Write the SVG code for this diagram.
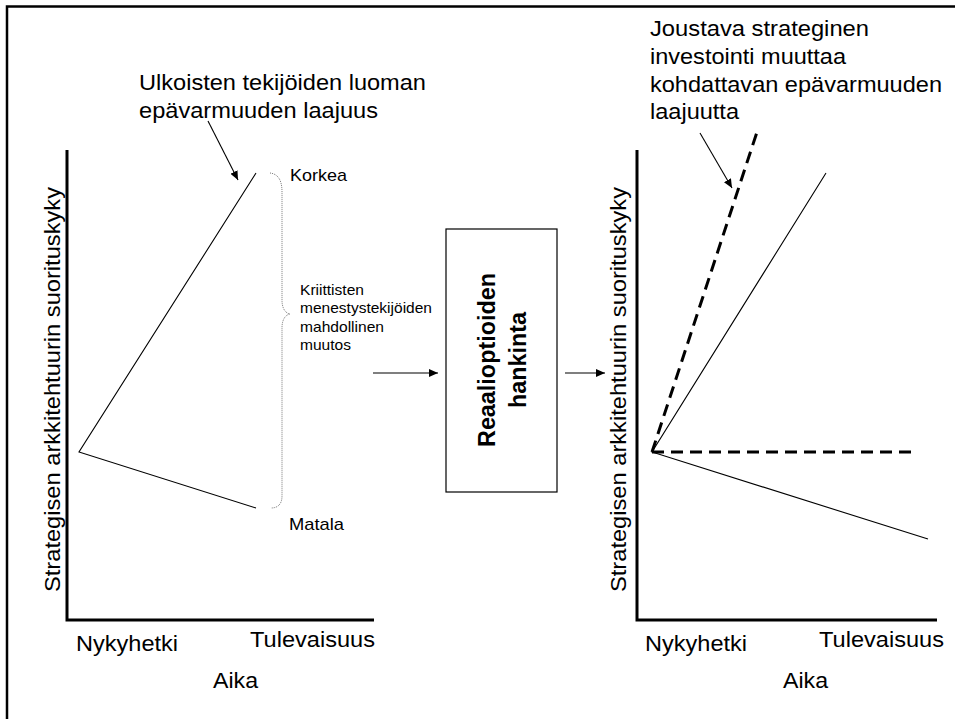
<svg xmlns="http://www.w3.org/2000/svg" width="955" height="719" viewBox="0 0 955 719">
  <style>
    text { font-family: "Liberation Sans", Arial, sans-serif; fill: #000; }
    .big { font-size: 22px; }
    .mid { font-size: 17px; }
    .small { font-size: 15px; }
    .bold { font-size: 23px; font-weight: bold; }
    .axis { fill: none; stroke: #000; stroke-width: 3; }
    .thin { fill: none; stroke: #000; stroke-width: 1.1; }
    .dash { fill: none; stroke: #000; stroke-width: 3; stroke-dasharray: 12 7; }
    .arrow { fill: none; stroke: #000; stroke-width: 1.1; marker-end: url(#head); }
    .brace { fill: none; stroke: #7a7a7a; stroke-width: 1; stroke-dasharray: 1 1; }
  </style>
  <defs>
    <marker id="head" markerUnits="userSpaceOnUse" markerWidth="10" markerHeight="8" refX="9" refY="4" orient="auto">
      <path d="M0,0 L9,4 L0,8 Z" fill="#000"/>
    </marker>
  </defs>

  <rect width="955" height="719" fill="#fff"/>
  <!-- frame: top and left edges -->
  <path d="M7,719 L7,6.5 L955,6.5" fill="none" stroke="#000" stroke-width="2.5"/>

  <!-- left chart -->
  <g id="left-chart">
    <path class="axis" d="M67,150 L67,620 L374,620"/>
    <text class="big" x="60" y="389.5" text-anchor="middle" textLength="405" lengthAdjust="spacingAndGlyphs" transform="rotate(-90 60 389.5)">Strategisen arkkitehtuurin suorituskyky</text>
    <path class="thin" d="M256,173 L79,452 L256,508"/>
    <text class="big" x="76" y="651" textLength="102" lengthAdjust="spacingAndGlyphs">Nykyhetki</text>
    <text class="big" x="250" y="647" textLength="125" lengthAdjust="spacingAndGlyphs">Tulevaisuus</text>
    <text class="big" x="213" y="688" textLength="45" lengthAdjust="spacingAndGlyphs">Aika</text>
  </g>

  <g id="note-left">
    <text class="big" x="139" y="90" textLength="287" lengthAdjust="spacingAndGlyphs">Ulkoisten tekijöiden luoman</text>
    <text class="big" x="139" y="118" textLength="239" lengthAdjust="spacingAndGlyphs">epävarmuuden laajuus</text>
  </g>

  <g id="range-brace">
    <path class="brace" d="M270,173 C278,174 282,180 282,192 L282,300 C282,308 285,313 290,314 C285,315 282,320 282,328 L282,496 C282,504 278,508 271,508"/>
    <text class="mid" x="290" y="181" textLength="57" lengthAdjust="spacingAndGlyphs">Korkea</text>
    <text class="mid" x="289" y="530" textLength="55" lengthAdjust="spacingAndGlyphs">Matala</text>
    <text class="small" x="300" y="295" textLength="64" lengthAdjust="spacingAndGlyphs">Kriittisten</text>
    <text class="small" x="300" y="313" textLength="132" lengthAdjust="spacingAndGlyphs">menestystekijöiden</text>
    <text class="small" x="300" y="332" textLength="84" lengthAdjust="spacingAndGlyphs">mahdollinen</text>
    <text class="small" x="300" y="350" textLength="51" lengthAdjust="spacingAndGlyphs">muutos</text>
  </g>

  <g id="acquisition">
    <rect x="446" y="229" width="111" height="263" fill="#fff" stroke="#000" stroke-width="1.2"/>
    <text class="bold" x="495" y="360" text-anchor="middle" textLength="174" lengthAdjust="spacingAndGlyphs" transform="rotate(-90 495 360)">Reaalioptioiden</text>
    <text class="bold" x="526" y="360" text-anchor="middle" textLength="96" lengthAdjust="spacingAndGlyphs" transform="rotate(-90 526 360)">hankinta</text>
  </g>

  <!-- right chart -->
  <g id="right-chart">
    <path class="axis" d="M637,150 L637,620 L937,620"/>
    <text class="big" x="626" y="389.5" text-anchor="middle" textLength="405" lengthAdjust="spacingAndGlyphs" transform="rotate(-90 626 389.5)">Strategisen arkkitehtuurin suorituskyky</text>
    <path class="thin" d="M826,173 L652,452 L928,539"/>
    <path class="dash" d="M652,452 L757,132"/>
    <path class="dash" d="M652,452 L916,452"/>
    <text class="big" x="645" y="651" textLength="102" lengthAdjust="spacingAndGlyphs">Nykyhetki</text>
    <text class="big" x="819" y="647" textLength="125" lengthAdjust="spacingAndGlyphs">Tulevaisuus</text>
    <text class="big" x="783" y="688" textLength="45" lengthAdjust="spacingAndGlyphs">Aika</text>
  </g>

  <g id="note-right">
    <text class="big" x="650" y="36" textLength="219" lengthAdjust="spacingAndGlyphs">Joustava strateginen</text>
    <text class="big" x="650" y="64" textLength="196" lengthAdjust="spacingAndGlyphs">investointi muuttaa</text>
    <text class="big" x="650" y="92" textLength="292" lengthAdjust="spacingAndGlyphs">kohdattavan epävarmuuden</text>
    <text class="big" x="650" y="119" textLength="89" lengthAdjust="spacingAndGlyphs">laajuutta</text>
  </g>

  <g id="connectors">
    <line class="arrow" x1="208" y1="121" x2="238" y2="180"/>
    <line class="arrow" x1="700" y1="133" x2="732" y2="188"/>
    <line class="arrow" x1="373" y1="373" x2="438" y2="373"/>
    <line class="arrow" x1="565" y1="373" x2="605" y2="373"/>
  </g>
</svg>
